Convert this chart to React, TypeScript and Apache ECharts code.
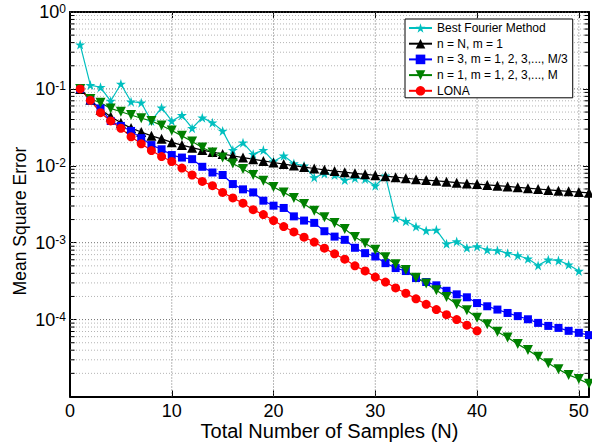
import React, { useEffect, useRef } from "react";
import * as echarts from "echarts";

// Mean square error versus total number of samples N (index 1..n)
const bestFourier = [
  0.377, 0.112, 0.105, 0.0695, 0.116, 0.0681, 0.0661, 0.0383, 0.0569, 0.0383,
  0.0454, 0.0308, 0.0423, 0.0364, 0.0284, 0.016, 0.02, 0.0142, 0.016, 0.0114,
  0.0135, 0.0107, 0.01, 0.00705, 0.00794, 0.00759, 0.00653, 0.00693, 0.00676, 0.00551,
  0.00741, 0.0021, 0.0019, 0.00162, 0.00144, 0.00147, 0.000968, 0.00104, 0.000859, 0.000893,
  0.000809, 0.000793, 0.000731, 0.000682, 0.000618, 0.000507, 0.0006, 0.000587, 0.000518, 0.000428,
];
const nEqualsN = [
  0.1, 0.0724, 0.0537, 0.0437, 0.0363, 0.0309, 0.0275, 0.0245, 0.0224, 0.0202,
  0.0186, 0.0172, 0.016, 0.0151, 0.0142, 0.0135, 0.0128, 0.0122, 0.01156, 0.01104,
  0.01054, 0.01007, 0.00962, 0.00923, 0.00887, 0.00855, 0.00826, 0.00798, 0.00774, 0.00753,
  0.00733, 0.00711, 0.00689, 0.00668, 0.00652, 0.00637, 0.00621, 0.00604, 0.0059, 0.00578,
  0.00564, 0.00551, 0.0054, 0.00525, 0.00511, 0.00499, 0.00486, 0.00475, 0.00465, 0.00455,
  0.00445,
];
const nThree = [
  0.1, 0.0708, 0.0558, 0.0383, 0.033, 0.0284, 0.0229, 0.0186, 0.0164, 0.0138,
  0.0128, 0.0122, 0.00971, 0.00818, 0.00759, 0.00579, 0.00494, 0.00451, 0.00352, 0.00303,
  0.00283, 0.0022, 0.00194, 0.00181, 0.00141, 0.0012, 0.00109, 0.000859, 0.000731, 0.000662,
  0.000542, 0.000468, 0.000428, 0.000347, 0.000308, 0.000279, 0.000237, 0.000213, 0.000195, 0.000164,
  0.000149, 0.000135, 0.000122, 0.000111, 0.000101, 0.0000906, 0.0000828, 0.000078, 0.0000714, 0.0000673,
  0.0000628,
];
const nOne = [
  0.1, 0.0741, 0.0661, 0.0558, 0.0505, 0.0458, 0.0415, 0.0383, 0.0335, 0.0288,
  0.0245, 0.0207, 0.0173, 0.0149, 0.0128, 0.0107, 0.00906, 0.00759, 0.0064, 0.00531,
  0.00451, 0.00382, 0.00319, 0.00261, 0.00214, 0.00181, 0.00151, 0.00119, 0.000986, 0.000809,
  0.000649, 0.000525, 0.000442, 0.000351, 0.000295, 0.00024, 0.000197, 0.000158, 0.000132, 0.000106,
  0.0000871, 0.0000693, 0.0000586, 0.000048, 0.0000402, 0.0000329, 0.000027, 0.0000226, 0.0000191, 0.0000169,
  0.0000146,
];
const lona = [
  0.1, 0.071, 0.049, 0.0383, 0.0308, 0.0238, 0.0193, 0.0158, 0.0132, 0.01138,
  0.00933, 0.00759, 0.00627, 0.00551, 0.00451, 0.00382, 0.00327, 0.00269, 0.00232, 0.00194,
  0.00162, 0.00138, 0.00118, 0.00102, 0.000849, 0.000716, 0.00061, 0.000501, 0.00043, 0.000357,
  0.000308, 0.000258, 0.00022, 0.000186, 0.000158, 0.000135, 0.000116, 0.0001, 0.0000845, 0.0000714,
];

const seriesNames = [
  "Best Fourier Method",
  "n = N, m = 1",
  "n = 3, m = 1, 2, 3,..., M/3",
  "n = 1, m = 1, 2, 3,..., M",
  "LONA",
];

const xTicks = [0, 10, 20, 30, 40, 50];
const decades = [1e-5, 1e-4, 1e-3, 1e-2, 1e-1];
const minorMultipliers = [2, 3, 4, 5, 6, 7, 8, 9];

const X_MIN = 0;
const X_MAX = 51;
const Y_MIN = 1e-5;
const Y_MAX = 1;

const FONT = "'Liberation Sans', Arial, Helvetica, sans-serif";
const STAR =
  "path://M50,0 L61.2,34.5 L97.6,34.5 L68.2,55.9 L79.4,90.5 L50,69.1 L20.6,90.5 L31.8,55.9 L2.4,34.5 L38.8,34.5 Z";

function toPoints(values: number[]) {
  return values.map((v, i) => [i + 1, v]);
}

export default function App() {
  const ref = useRef<HTMLDivElement>(null);

  useEffect(() => {
    document.body.style.margin = "0";
    if (!ref.current) return;
    const chart = echarts.init(ref.current, undefined, { renderer: "svg" });

    const minorValues: number[] = [];
    decades.forEach((d) => minorMultipliers.forEach((m) => minorValues.push(d * m)));
    const majorValues = [...decades.slice(1), Y_MAX];

    const hLines = (vals: number[], x0: number, x1: number) => {
      const out: any[] = [];
      vals.forEach((v) => {
        out.push([x0, v], [x1, v], [x1, "-"]);
      });
      return out;
    };
    const vLines = (vals: number[], y0: number, y1: number) => {
      const out: any[] = [];
      vals.forEach((v) => {
        out.push([v, y0], [v, y1], ["-", y1]);
      });
      return out;
    };

    const tickLenX = 0.45;
    const minorTickData = [
      ...hLines(minorValues, X_MIN, X_MIN + tickLenX),
      ...hLines(minorValues, X_MAX - tickLenX, X_MAX),
    ];

    const helper = (name: string, data: any[], color: string, dashed: boolean, z: number) => ({
      type: "line",
      name,
      data,
      symbol: "none",
      silent: true,
      connectNulls: false,
      z,
      lineStyle: { color, width: 1, type: dashed ? [1, 2] : "solid" },
      tooltip: { show: false },
    });

    const lineW = 1.2;
    const mk = (
      name: string,
      values: number[],
      color: string,
      symbol: string,
      size: number,
      rotate = 0
    ) => ({
      type: "line",
      name,
      data: toPoints(values),
      symbol,
      symbolSize: size,
      symbolRotate: rotate,
      showAllSymbol: true,
      z: 5,
      lineStyle: { color, width: lineW },
      itemStyle: { color, borderWidth: 0 },
    });

    const expFormatter = (v: number) => {
      const e = Math.round(Math.log10(v));
      return `{b|10}{s|${e}}`;
    };

    chart.setOption({
      animation: false,
      backgroundColor: "#fff",
      textStyle: { fontFamily: FONT },
      grid: {
        left: 70,
        right: 3,
        top: 12,
        bottom: 48.5,
        containLabel: false,
        outerBoundsMode: "none",
      },
      xAxis: [
        {
          type: "value",
          min: X_MIN,
          max: X_MAX,
          interval: 10,
          position: "bottom",
          name: "Total Number of Samples (N)",
          nameLocation: "middle",
          nameGap: 24,
          nameMoveOverlap: false,
          nameTextStyle: { fontSize: 20, lineHeight: 20, color: "#000", fontFamily: FONT },
          axisLine: { show: true, onZero: false, lineStyle: { color: "#000", width: 2 } },
          axisTick: { show: true, inside: true, length: 6, lineStyle: { color: "#000", width: 1 } },
          axisLabel: {
            fontSize: 18,
            lineHeight: 17,
            color: "#000",
            margin: 6,
            fontFamily: FONT,
            formatter: (v: number) => (v % 10 === 0 ? String(v) : ""),
          },
          splitLine: { show: false },
        },
        {
          type: "value",
          min: X_MIN,
          max: X_MAX,
          interval: 10,
          position: "top",
          axisLine: { show: true, onZero: false, lineStyle: { color: "#000", width: 2 } },
          axisTick: { show: true, inside: true, length: 6, lineStyle: { color: "#000", width: 1 } },
          axisLabel: { show: false },
          splitLine: { show: false },
        },
      ],
      yAxis: [
        {
          type: "log",
          logBase: 10,
          min: Y_MIN,
          max: Y_MAX,
          position: "left",
          axisLine: { show: true, onZero: false, lineStyle: { color: "#000", width: 2 } },
          axisTick: { show: true, inside: true, length: 6, lineStyle: { color: "#000", width: 1 } },
          axisLabel: {
            color: "#000",
            margin: 4,
            showMinLabel: false,
            formatter: expFormatter,
            rich: {
              b: { fontSize: 18, fontFamily: FONT, color: "#000", verticalAlign: "middle", lineHeight: 18 },
              s: { fontSize: 12, fontFamily: FONT, color: "#000", verticalAlign: "top", lineHeight: 18, padding: [0, 0, 10, 0] },
            },
          },
          splitLine: { show: false },
        },
        {
          type: "log",
          logBase: 10,
          min: Y_MIN,
          max: Y_MAX,
          position: "right",
          axisLine: { show: true, onZero: false, lineStyle: { color: "#000", width: 2 } },
          axisTick: { show: true, inside: true, length: 6, lineStyle: { color: "#000", width: 1 } },
          axisLabel: { show: false },
          splitLine: { show: false },
        },
      ],
      legend: {
        orient: "vertical",
        left: 405,
        top: 19,
        padding: [3, 5, 1, 3],
        itemGap: 3.7,
        itemWidth: 23,
        itemHeight: 12,
        itemTextGap: 2,
        backgroundColor: "#fff",
        borderColor: "#000",
        borderWidth: 1,
        textStyle: { fontSize: 12, color: "#000", fontFamily: FONT },
        data: seriesNames,
      },
      graphic: [
        {
          type: "text",
          x: 20,
          y: 221,
          rotation: Math.PI / 2,
          style: {
            text: "Mean Square Error",
            fontSize: 17.5,
            fontFamily: FONT,
            fill: "#000",
            align: "center",
            verticalAlign: "middle",
          },
        },
      ],
      series: [
        helper("minorGrid", hLines(minorValues, X_MIN, X_MAX), "#b4b4b4", true, 1),
        helper("majorGridY", hLines(majorValues, X_MIN, X_MAX), "#707070", true, 1),
        helper("majorGridX", vLines(xTicks.slice(1), Y_MIN, Y_MAX), "#707070", true, 1),
        helper("minorTicks", minorTickData, "#000", false, 2),
        mk(seriesNames[0], bestFourier, "#00BFBF", STAR, 10),
        mk(seriesNames[1], nEqualsN, "#000000", "triangle", 10),
        mk(seriesNames[2], nThree, "#0000FF", "rect", 8),
        mk(seriesNames[3], nOne, "#008000", "triangle", 10, 180),
        mk(seriesNames[4], lona, "#FF0000", "circle", 9),
      ],
    });

    return () => chart.dispose();
  }, []);

  return <div ref={ref} style={{ width: 592, height: 445 }} />;
}
